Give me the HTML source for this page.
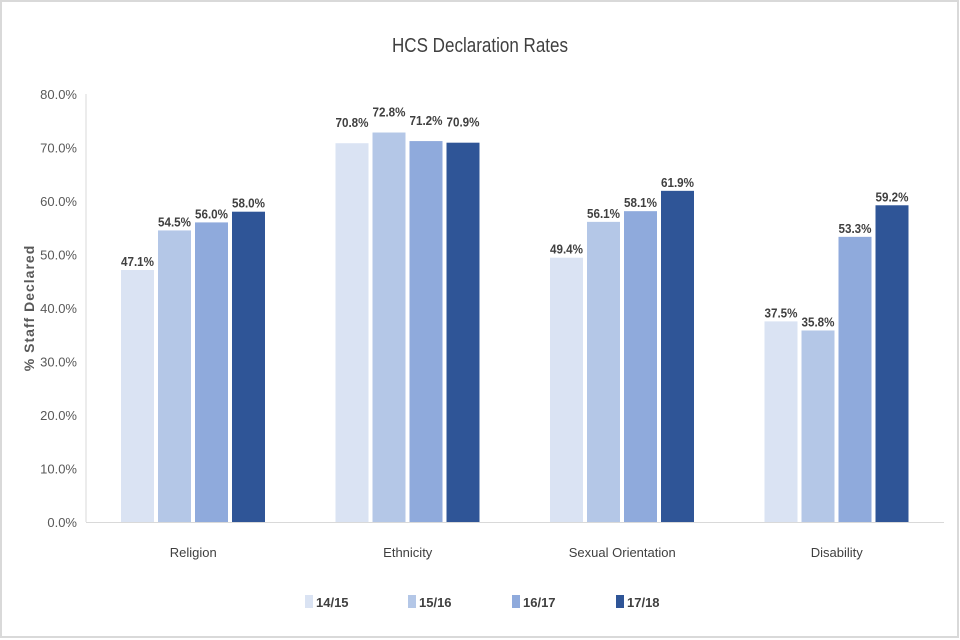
<!DOCTYPE html>
<html><head><meta charset="utf-8"><style>
body{margin:0;background:#fff}
svg{display:block;font-family:"Liberation Sans",sans-serif}
</style></head><body>
<svg id="c" width="960" height="640">
<rect x="1" y="1" width="957" height="636" fill="#fff" stroke="#d9d9d9" stroke-width="2"/>
<text x="480" y="52" text-anchor="middle" font-size="20" fill="#404040" textLength="176" lengthAdjust="spacingAndGlyphs">HCS Declaration Rates</text>
<text transform="translate(34,308) rotate(-90)" text-anchor="middle" font-size="14" font-weight="bold" fill="#595959" letter-spacing="1">% Staff Declared</text>
<g id="g"></g>
</svg>
<script>
const categories=["Religion","Ethnicity","Sexual Orientation","Disability"];
const seriesNames=["14/15","15/16","16/17","17/18"];
const s1415=[47.1,70.8,49.4,37.5];
const s1516=[54.5,72.8,56.1,35.8];
const s1617=[56.0,71.2,58.1,53.3];
const s1718=[58.0,70.9,61.9,59.2];
const yTicks=[0,10,20,30,40,50,60,70,80];
const colors=["#dae3f3","#b4c7e7","#8faadc","#2f5597"];
const series=[s1415,s1516,s1617,s1718];
const NS="http://www.w3.org/2000/svg",g=document.getElementById("g");
const x0=86,x1=944,y0=522,yTop=94,yMax=80;
const y=v=>y0-(v/yMax)*(y0-yTop);
const cw=(x1-x0)/categories.length;
function mk(t,a,txt){const e=document.createElementNS(NS,t);for(const k in a)e.setAttribute(k,a[k]);if(txt!=null)e.textContent=txt;g.appendChild(e);return e;}
yTicks.forEach(t=>{
const e=mk("text",{x:77,y:y(t)+5,"text-anchor":"end","font-size":13,fill:"#595959"},t.toFixed(1)+"%");


});
const ax=mk("line",{x1:x0,y1:yTop,x2:x0,y2:y0,stroke:"#d9d9d9"});


const bx=mk("line",{x1:x0,y1:y0+0.5,x2:x1,y2:y0+0.5,stroke:"#d9d9d9"});


const bw=33,gap=4,off=35;
categories.forEach((c,i)=>{
const cx=x0+cw*i;
series.forEach((s,j)=>{
const bxp=cx+off+j*(bw+gap);
const r=mk("rect",{x:bxp,y:y(s[i]),width:bw,height:y0-y(s[i]),fill:colors[j]});


const l=mk("text",{x:bxp+bw/2,y:y(s[i])-4-(i===1?12:0),"text-anchor":"middle","font-size":13,"font-weight":"bold",fill:"#404040",textLength:33,lengthAdjust:"spacingAndGlyphs"},s[i].toFixed(1)+"%");


});
const t=mk("text",{x:cx+cw/2,y:557,"text-anchor":"middle","font-size":13,fill:"#404040"},c);


});
const lx=[305,408,512,616];
seriesNames.forEach((n,j)=>{
const r=mk("rect",{x:lx[j],y:595,width:8,height:13,fill:colors[j]});


const t=mk("text",{x:lx[j]+11,y:607,"font-size":13,"font-weight":"bold",fill:"#404040"},n);


});
</script>
</body></html>
